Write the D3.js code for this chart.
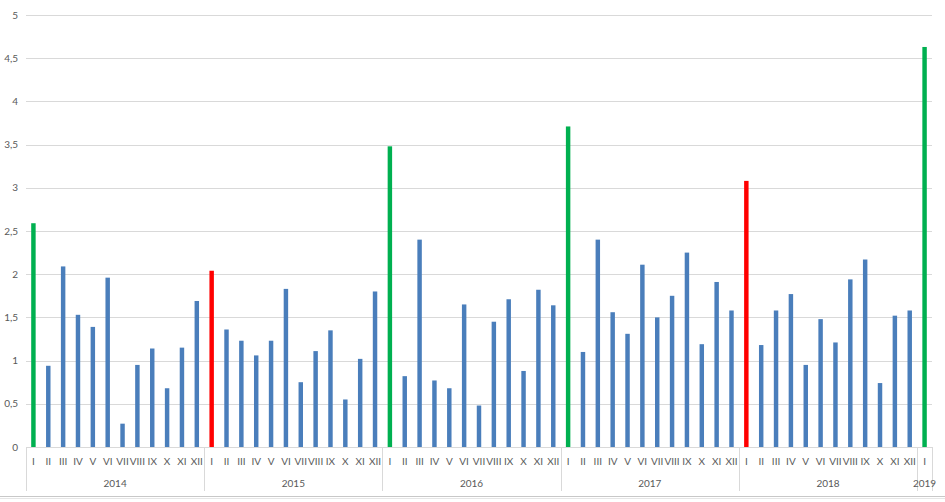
<!DOCTYPE html>
<html><head><meta charset="utf-8">
<script src="https://cdn.jsdelivr.net/npm/d3@7"></script>
<style>body{margin:0;background:#fff}svg{display:block}text{font-family:Lato,"Open Sans",sans-serif;fill:#595959}</style>
</head><body><svg id="c" width="945" height="502"></svg>
<script>
const years = ["2014","2015","2016","2017","2018","2019"];
const months = ["I","II","III","IV","V","VI","VII","VIII","IX","X","XI","XII"];
const v2014 = [2.59,0.94,2.09,1.53,1.39,1.96,0.27,0.95,1.14,0.68,1.15,1.69];
const v2015 = [2.04,1.36,1.23,1.06,1.23,1.83,0.75,1.11,1.35,0.55,1.02,1.80];
const v2016 = [3.48,0.82,2.40,0.77,0.68,1.65,0.48,1.45,1.71,0.88,1.82,1.64];
const v2017 = [3.71,1.10,2.40,1.56,1.31,2.11,1.50,1.75,2.25,1.19,1.91,1.58];
const v2018 = [3.08,1.18,1.58,1.77,0.95,1.48,1.21,1.94,2.17,0.74,1.52,1.58];
const v2019 = [4.63];
const januaryColor = {"2014":"green","2015":"red","2016":"green","2017":"green","2018":"red","2019":"green"};
const yTicks = [0,0.5,1,1.5,2,2.5,3,3.5,4,4.5,5];

(function(){
const series = [v2014,v2015,v2016,v2017,v2018,v2019];
const data = [];
series.forEach((arr,yi)=>arr.forEach((v,mi)=>data.push({year:years[yi],month:months[mi],mi,value:v,key:years[yi]+"-"+mi})));

const colors = {blue:"#4a7ebb",green:"#00b050",red:"#ff0000"};
const svg = d3.select("#c");
const pL = 26, pR = 932, pT = 15, pB = 447;
const x = d3.scaleBand().domain(data.map(d=>d.key)).range([pL,pR]).paddingInner(0.7).paddingOuter(0.35);
const y = d3.scaleLinear().domain([0,5]).range([pB,pT]);

svg.append("g").selectAll("line").data(yTicks).join("line")
  .attr("x1",pL).attr("x2",pR)
  .attr("y1",d=>Math.round(y(d))+0.5).attr("y2",d=>Math.round(y(d))+0.5)
  .attr("stroke","#d9d9d9").attr("stroke-width",1);

svg.append("g").selectAll("text").data(yTicks).join("text")
  .attr("x",18).attr("y",d=>y(d)+3.5).attr("text-anchor","end")
  .style("font-size","10px").text(d=>String(d).replace(".",","));

svg.append("g").selectAll("rect").data(data).join("rect")
  .attr("x",d=>x(d.key)).attr("width",x.bandwidth())
  .attr("y",d=>y(d.value)).attr("height",d=>y(0)-y(d.value))
  .attr("fill",d=>d.mi===0?colors[januaryColor[d.year]]:colors.blue);

svg.append("g").selectAll("text").data(data).join("text")
  .attr("x",d=>x(d.key)+x.bandwidth()/2).attr("y",465)
  .attr("text-anchor","middle").style("font-size","10px").text(d=>d.month);

const step = x.step();
const groups = years.map(yr=>{
  const ds = data.filter(d=>d.year===yr);
  const x0 = x(ds[0].key) + x.bandwidth()/2 - step/2;
  const x1 = x(ds[ds.length-1].key) + x.bandwidth()/2 + step/2;
  return {yr,x0,x1};
});
const gAxis = svg.append("g");
const bounds = groups.map(g=>g.x0).concat([groups[groups.length-1].x1]);
gAxis.selectAll("line").data(bounds).join("line")
  .attr("x1",d=>Math.round(d)+0.5).attr("x2",d=>Math.round(d)+0.5)
  .attr("y1",pB).attr("y2",491).attr("stroke","#d9d9d9");
gAxis.selectAll("text").data(groups).join("text")
  .attr("x",d=>(d.x0+d.x1)/2).attr("y",487).attr("text-anchor","middle")
  .style("font-size","10px").text(d=>d.yr);

svg.append("line").attr("x1",0).attr("x2",945).attr("y1",496.5).attr("y2",496.5).attr("stroke","#c8c8c8");
svg.append("line").attr("x1",0).attr("x2",945).attr("y1",498.5).attr("y2",498.5).attr("stroke","#e6e6e6");
})();
</script></body></html>
